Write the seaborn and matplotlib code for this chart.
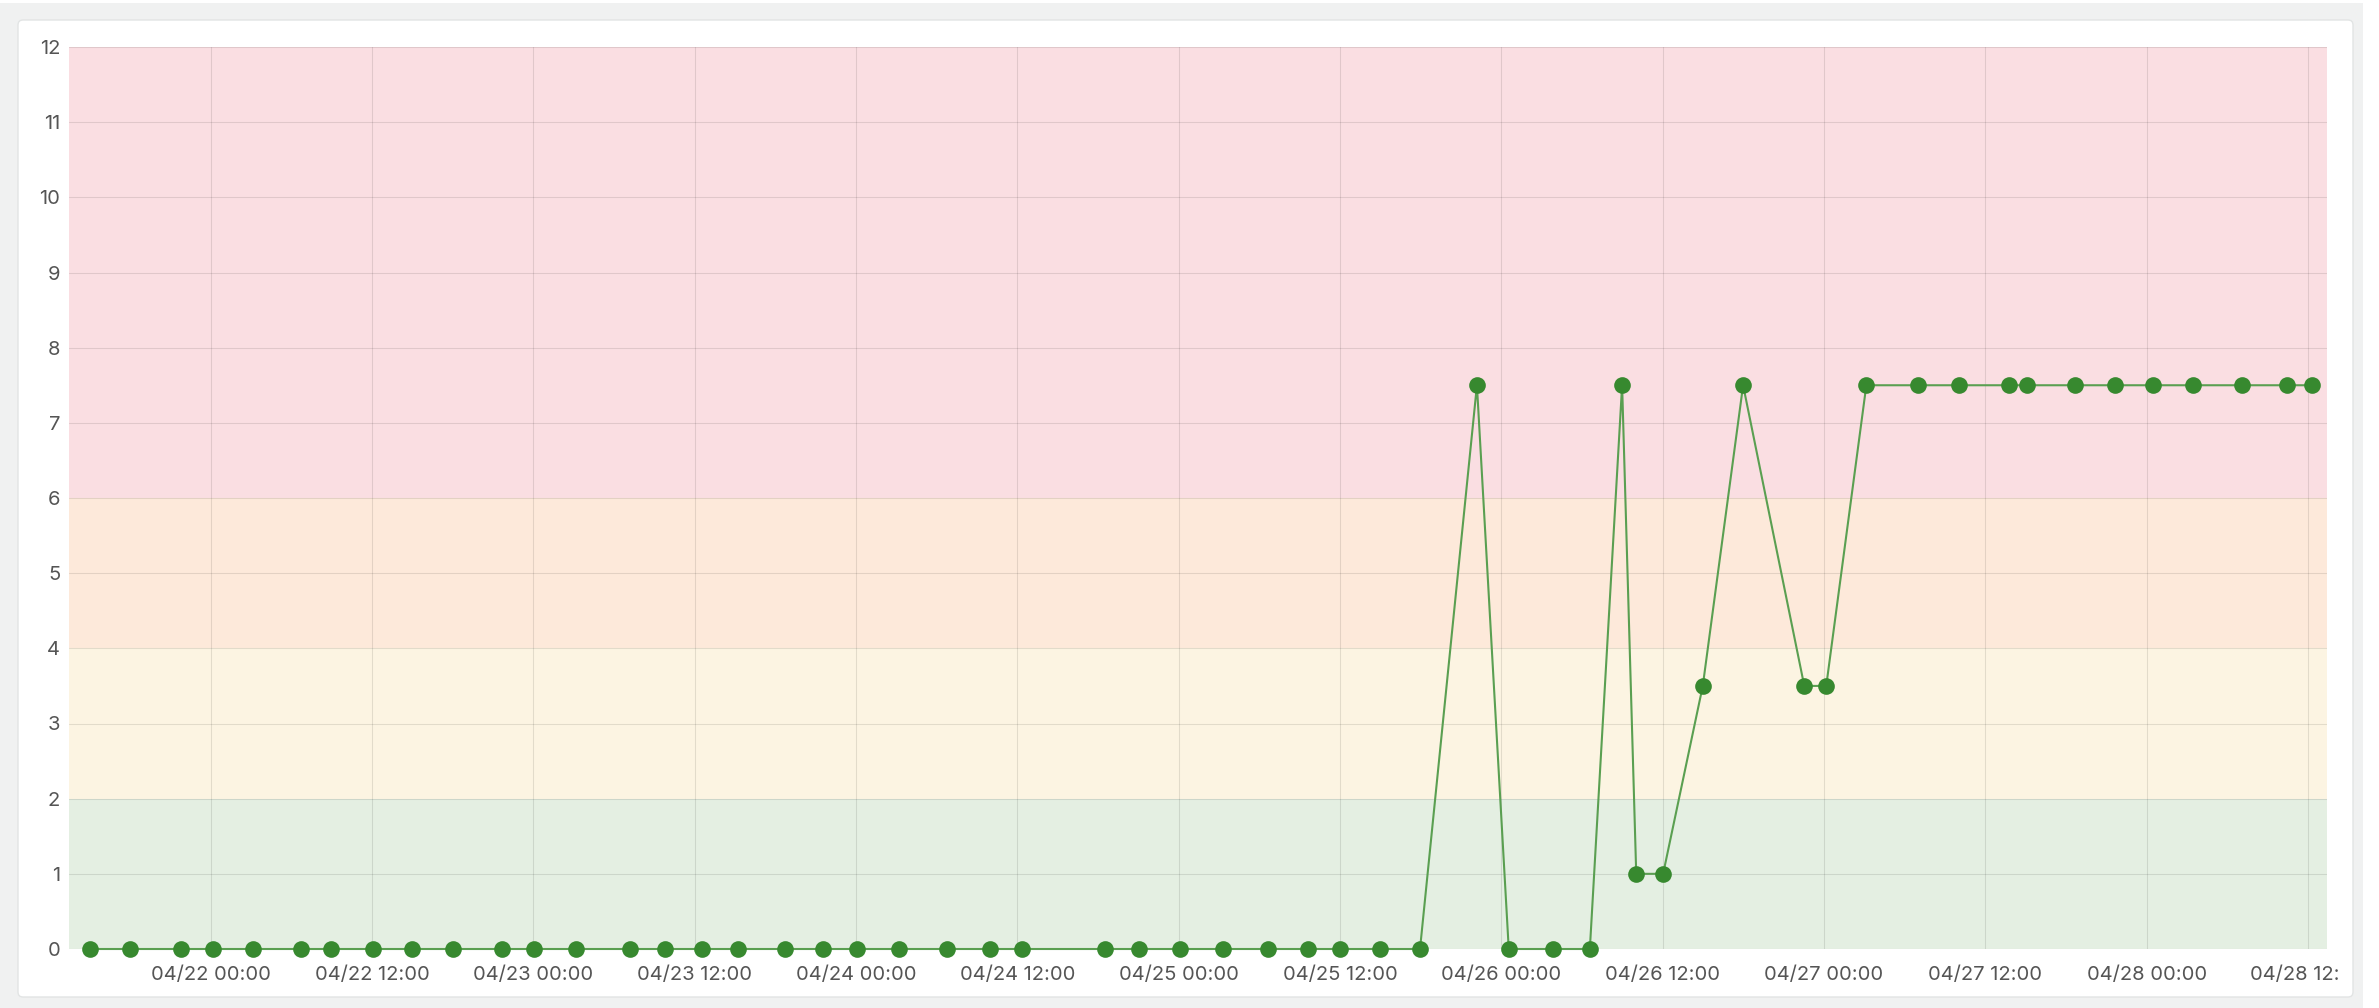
import pandas as pd
import matplotlib
matplotlib.use("Agg")
from matplotlib import pyplot as plt
from matplotlib.patches import Rectangle, FancyBboxPatch
from matplotlib.transforms import Bbox, TransformedBbox
import seaborn as sns

# readings (timestamps, values off the y axis)
times = [
    "2024-04-21 15:01", "2024-04-21 17:58", "2024-04-21 21:48", "2024-04-22 00:09",
    "2024-04-22 03:09", "2024-04-22 06:41", "2024-04-22 08:58", "2024-04-22 12:02",
    "2024-04-22 15:00", "2024-04-22 18:02", "2024-04-22 21:39", "2024-04-23 00:02",
    "2024-04-23 03:09", "2024-04-23 07:13", "2024-04-23 09:47", "2024-04-23 12:32",
    "2024-04-23 15:13", "2024-04-23 18:43", "2024-04-23 21:34", "2024-04-24 00:02",
    "2024-04-24 03:11", "2024-04-24 06:47", "2024-04-24 09:59", "2024-04-24 12:20",
    "2024-04-24 18:29", "2024-04-24 21:04", "2024-04-25 00:06", "2024-04-25 03:17",
    "2024-04-25 06:38", "2024-04-25 09:36", "2024-04-25 11:59", "2024-04-25 14:59",
    "2024-04-25 17:57", "2024-04-25 22:11", "2024-04-26 00:33", "2024-04-26 03:51",
    "2024-04-26 06:35", "2024-04-26 08:59", "2024-04-26 10:02", "2024-04-26 12:02",
    "2024-04-26 14:59", "2024-04-26 17:59", "2024-04-26 22:32", "2024-04-27 00:10",
    "2024-04-27 03:09", "2024-04-27 06:59", "2024-04-27 10:03", "2024-04-27 13:45",
    "2024-04-27 15:06", "2024-04-27 18:42", "2024-04-27 21:41", "2024-04-28 00:28",
    "2024-04-28 03:26", "2024-04-28 07:04", "2024-04-28 10:25", "2024-04-28 12:19",
]
values = [
    0, 0, 0, 0, 0, 0, 0, 0, 0, 0, 0, 0, 0, 0, 0, 0,
    0, 0, 0, 0, 0, 0, 0, 0, 0, 0, 0, 0, 0, 0, 0, 0,
    0, 7.5, 0, 0, 0, 7.5, 1, 1, 3.5, 7.5, 3.5, 3.5,
    7.5, 7.5, 7.5, 7.5, 7.5, 7.5, 7.5, 7.5, 7.5, 7.5, 7.5, 7.5,
]

# threshold bands
band_edges = [0, 2, 4, 6, 12]
band_colors = ["#e4efe2", "#fcf4e2", "#fde9da", "#fadee2"]

# x ticks every 12 hours
tick_times = [
    "2024-04-22 00:00", "2024-04-22 12:00", "2024-04-23 00:00", "2024-04-23 12:00",
    "2024-04-24 00:00", "2024-04-24 12:00", "2024-04-25 00:00", "2024-04-25 12:00",
    "2024-04-26 00:00", "2024-04-26 12:00", "2024-04-27 00:00", "2024-04-27 12:00",
    "2024-04-28 00:00", "2024-04-28 12:00",
]
tick_labels = [
    "04/22 00:00", "04/22 12:00", "04/23 00:00", "04/23 12:00",
    "04/24 00:00", "04/24 12:00", "04/25 00:00", "04/25 12:00",
    "04/26 00:00", "04/26 12:00", "04/27 00:00", "04/27 12:00",
    "04/28 00:00", "04/28 12:00",
]

df = pd.DataFrame({"time": pd.to_datetime(times), "value": values})

sns.set_style("white")
plt.rcParams['font.family'] = ['Inter', 'DejaVu Sans']

W, H = 2379, 1008
fig = plt.figure(figsize=(W / 100, H / 100), dpi=100)
fig.patch.set_facecolor("white")

# page background + white card (in inches, i.e. px/100)
fig.add_artist(Rectangle((0, 0), 23.63, 10.05, transform=fig.dpi_scale_trans,
                         facecolor="#f0f1f1", edgecolor="none", zorder=-10))
fig.add_artist(FancyBboxPatch((0.18, 0.11), 23.35, 9.77, boxstyle="round,pad=0,rounding_size=0.05",
                              transform=fig.dpi_scale_trans, facecolor="white",
                              edgecolor="#e2e4e4", linewidth=1, zorder=-9))

ax = fig.add_axes([68.5 / W, 59 / H, (2327 - 68.5) / W, (949 - 47) / H])
ax.set_facecolor("none")

for lo, hi, c in zip(band_edges[:-1], band_edges[1:], band_colors):
    ax.axhspan(lo, hi, color=c, lw=0, zorder=0.1)

green = "#37892f"
sns.lineplot(data=df, x="time", y="value", ax=ax, color="#5a9f51", lw=1.5,
             marker="o", markersize=12, markerfacecolor=green, markeredgewidth=0, zorder=3)
for ln in ax.lines:
    ln.set_clip_on(False)

ax.set_ylim(0, 12)
ax.set_yticks(range(13))
ax.set_xlim(pd.Timestamp("2024-04-21 13:25"), pd.Timestamp("2024-04-28 13:25"))
ax.set_xticks(pd.to_datetime(tick_times), labels=tick_labels)

ax.set_axisbelow(True)
ax.grid(True, color="black", alpha=0.1, lw=0.8)
for s in ax.spines.values():
    s.set_visible(False)

ax.set_xlabel("")
ax.set_ylabel("")
ax.tick_params(axis="y", length=0, pad=6, labelsize=14.5, labelcolor="#555555")
ax.tick_params(axis="x", length=5, width=0.8, color=(0, 0, 0, 0.1), pad=7,
               labelsize=14.5, labelcolor="#555555")

# last tick label is cut off at the chart edge in the original
last = ax.get_xticklabels()[-1]
last.set_clip_box(TransformedBbox(Bbox([[0, 0], [23.40, 10.08]]), fig.dpi_scale_trans))
last.set_clip_on(True)

fig.savefig("out.png", dpi=100)
